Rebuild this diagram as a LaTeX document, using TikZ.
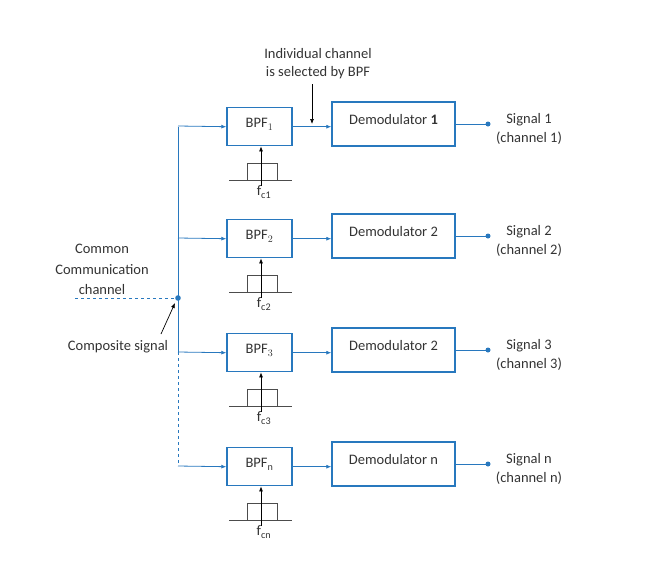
\documentclass[tikz,border=0pt]{standalone}
\usepackage{fontspec}
\setmainfont{Carlito}
\usetikzlibrary{arrows.meta}
\definecolor{bl}{RGB}{40,120,190}
\begin{document}
\begin{tikzpicture}[x=1pt,y=-1pt,
 box/.style={draw=bl,line width=1.4pt,minimum height=38pt,inner sep=0pt},
 con/.style={draw=bl,line width=0.8pt,-{Latex[length=5pt,width=4pt]}},
 lab/.style={font=\fontsize{14.5}{19}\selectfont,text=black!80},
 blk/.style={-{Latex[length=5pt,width=4pt]},line width=0.7pt}]
\useasboundingbox (0,0) rectangle (660,568);
\coordinate (top) at (178,127);
\coordinate (cs) at (178,298);
\coordinate (b3) at (178,352);
\coordinate (bn) at (178,463);
\coordinate (cin) at (75,298);
\draw[bl,line width=0.8pt] (top) -- (b3);
\draw[bl,line width=0.8pt,dashed] (b3) -- (bn);
\draw[bl,line width=0.8pt,dashed] (cin) -- (cs);
\fill[bl] (cs) circle (2.8pt);
\foreach \i/\y/\bp/\dm/\sg/\ch/\fc in {1/126/{BPF$_1$}/{Demodulator \textbf{1}}/{Signal 1}/{(channel 1)}/{c1},2/238/{BPF$_2$}/{Demodulator 2}/{Signal 2}/{(channel 2)}/{c2},3/352/{BPF$_3$}/{Demodulator 2}/{Signal 3}/{(channel 3)}/{c3},4/466/{BPF$_{\mathrm{n}}$}/{Demodulator n}/{Signal n}/{(channel n)}/{cn}}{
 \coordinate (s\i) at (178,\y);
 \node[box,minimum width=65pt,lab,anchor=north] (f\i) at (259.5,\y-19) {\raisebox{7pt}{\bp}};
 \node[box,minimum width=123pt,minimum height=44pt,lab] (d\i) at (393.5,\y-2) {\raisebox{9pt}{\dm}};
 \coordinate (o\i) at (488,\y-2);
 \draw[con] (s\i) -- (f\i.west);
 \draw[con] (f\i.east) -- (d\i.west |- f\i.east);
 \draw[bl,line width=0.8pt] (d\i.east |- o\i) -- (o\i);
 \fill[bl] (o\i) circle (2.5pt);
 \node[lab,align=center] (t\i) at (529,\y+3) {\sg\\[-0pt]\ch};
 \draw[black!70,line width=0.8pt] (229,\y+54) -- (292,\y+54);
 \draw[black!70,line width=0.8pt] (247,\y+54) -- (247,\y+37) -- (277,\y+37) -- (277,\y+54);
 \node[lab,inner sep=0pt] (fc\i) at (264,\y+66) {f$_{\mathrm{\fc}}$};
 \coordinate (fa\i) at (261,\y+60);
 \draw[blk] (fa\i) -- (fa\i |- f\i.south);
}
\node[lab,align=center] (ic) at (318,64) {Individual channel\\[-1pt]is selected by BPF};
\coordinate (ia) at (312,84);
\coordinate (ib) at (312,124);
\draw[blk] (ia) -- (ib);
\node[lab,align=center] (cc) at (102,269) {Common\\[2pt]Communication\\[1pt]channel};
\node[lab] (cps) at (118,347) {Composite signal};
\coordinate (ca) at (161,334);
\draw[blk] (ca) -- (175,303);
\end{tikzpicture}
\end{document}
